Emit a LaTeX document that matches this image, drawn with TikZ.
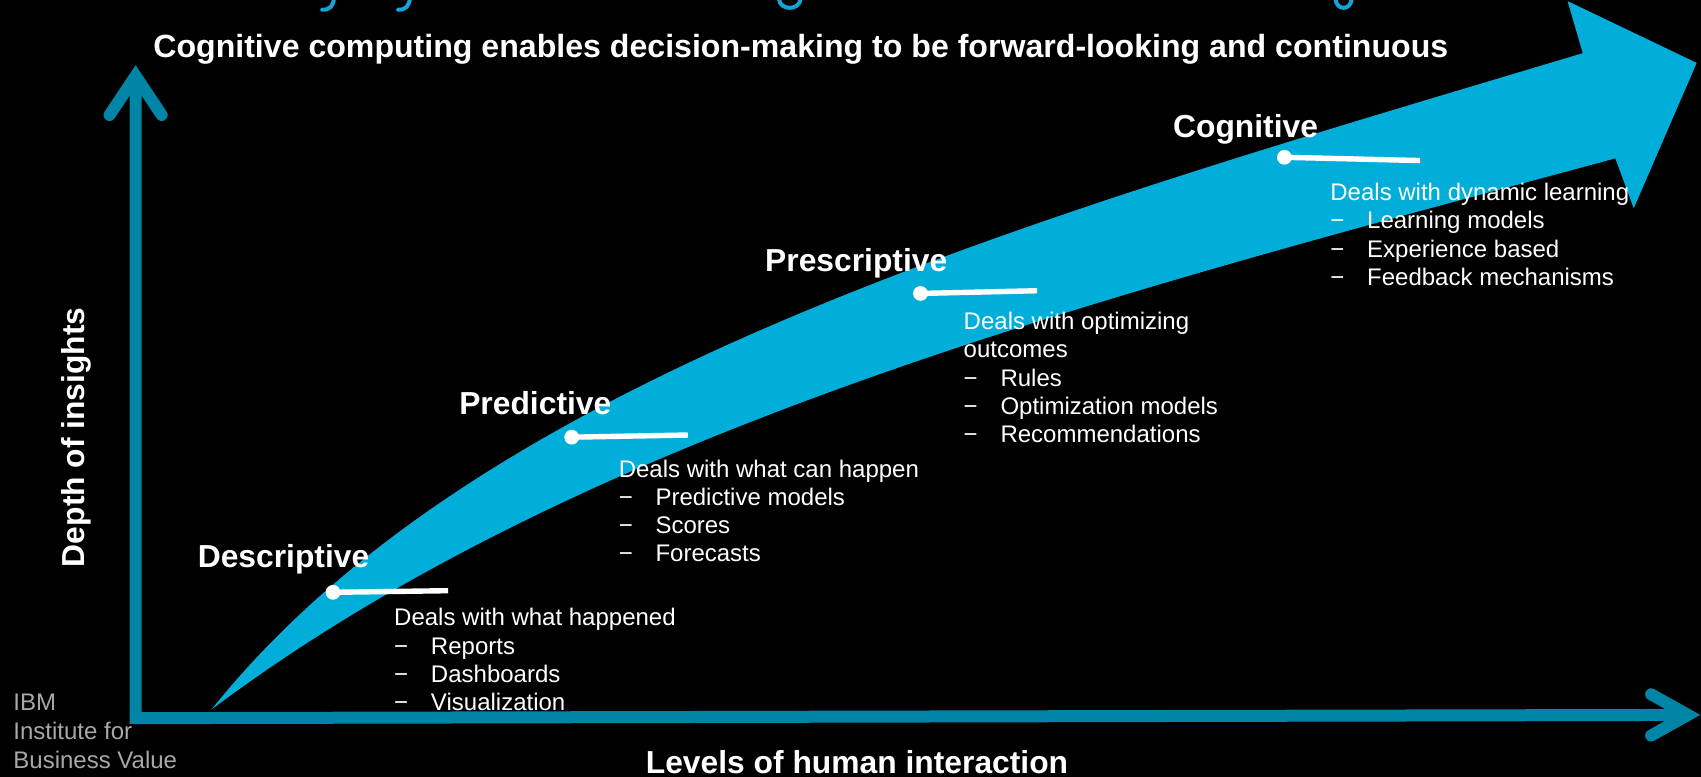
\documentclass[tikz,border=0pt]{standalone}
\usepackage{fontspec}
\setmainfont{Liberation Sans}
\definecolor{axisteal}{RGB}{0,133,166}
\definecolor{flowcyan}{RGB}{0,174,217}
\definecolor{headcyan}{RGB}{20,165,215}
\definecolor{ibmgray}{RGB}{168,168,168}
% one dash item: dash, then the item text at a fixed indent
\newcommand\dashitem[1]{\hbox{\makebox[18.4pt][l]{−}#1}}
% a block of lines whose baseline is that of its first line
\newcommand\textstack[2]{\vtop{\baselineskip=#1\relax #2}}
\begin{document}
\begin{tikzpicture}[x=0.5424pt, y=-0.5424pt,
  stagelabel/.style={text=white, font=\fontsize{15.9}{18}\selectfont\bfseries, inner sep=0pt},
  bodytext/.style={text=white, font=\fontsize{12}{14.1}\selectfont, inner sep=0pt, anchor=base west},
  ibmtext/.style={text=ibmgray, font=\fontsize{12}{14.4}\selectfont, inner sep=0pt, anchor=base west},
  stagedot/.style={circle, fill=white, minimum size=7.4pt, inner sep=0pt},
  leader/.style={white, line width=2.7pt},
  axisline/.style={axisteal, line width=6pt, line join=miter},
  axishead/.style={axisteal, line width=6pt, line cap=round, line join=miter, miter limit=10},
  cutglyph/.style={headcyan, line width=2pt, line cap=round}]

\useasboundingbox (0,0) rectangle (1568,716);
\fill[black] (0,0) rectangle (1568,716);
\clip (0,0) rectangle (1568,716);

% descenders of the heading line running off the top edge
\draw[cutglyph] (308,-2) .. controls (307,6) and (304,9) .. (297,9);
\draw[cutglyph] (378,-2) .. controls (377,6) and (374,9) .. (367,9);
\draw[cutglyph] (718,-1) .. controls (719,10) and (737,10) .. (738,-1);
\draw[cutglyph] (1231,-1) .. controls (1232,10) and (1245,10) .. (1246,-1);

% the broad curved arrow
\fill[flowcyan] (195,654) .. controls (445,341.5) and (959,199) .. (1459,49)
  -- (1445,1) -- (1564,58) -- (1506,192) -- (1489,146)
  .. controls (1039,267.5) and (545,391.5) .. (195,654) -- cycle;

% axes
\coordinate (origin) at (125,662);
\coordinate (ytop) at (125,70);
\coordinate (xend) at (1556,659);
\draw[axisline] (ytop) -- (origin) -- (xend);
\draw[axishead] (101,106) -- (ytop) -- (149,106);
\draw[axishead] (1522,640) -- (xend) -- (1522,678);

% heading and axis titles
\node[stagelabel, font=\fontsize{16.05}{18}\selectfont\bfseries, anchor=base west] (heading) at (141,53)
  {Cognitive computing enables decision-making to be forward-looking and continuous};
\node[stagelabel, rotate=90] (ylab) at (70,403) {Depth of insights};
\node[stagelabel, anchor=base] (xlab) at (790,713) {Levels of human interaction};

% source
\node[ibmtext] (ibv) at (12,655)
  {\textstack{14.4pt}{\hbox{IBM}\hbox{Institute for}\hbox{Business Value}}};

% Descriptive
\node[stagelabel, anchor=base west] (desc) at (182,523) {Descriptive};
\node[stagedot] (descdot) at (307,546) {};
\coordinate (descend) at (413,544.5);
\draw[leader] (descdot.center) -- (descend);
\node[bodytext] (descbody) at (363,577) {\textstack{14.1pt}{%
  \hbox{Deals with what happened}\dashitem{Reports}\dashitem{Dashboards}\dashitem{Visualization}}};

% Predictive
\node[stagelabel, anchor=base west] (pred) at (423,382) {Predictive};
\node[stagedot] (preddot) at (527,403) {};
\coordinate (predend) at (634,401);
\draw[leader] (preddot.center) -- (predend);
\node[bodytext] (predbody) at (570,440) {\textstack{14.1pt}{%
  \hbox{Deals with what can happen}\dashitem{Predictive models}\dashitem{Scores}\dashitem{Forecasts}}};

% Prescriptive
\node[stagelabel, anchor=base west] (presc) at (705,250) {Prescriptive};
\node[stagedot] (prescdot) at (848.5,270.5) {};
\coordinate (prescend) at (956,268);
\draw[leader] (prescdot.center) -- (prescend);
\node[bodytext] (prescbody) at (888,304) {\textstack{14.1pt}{%
  \hbox{Deals with optimizing}\hbox{outcomes}\dashitem{Rules}\dashitem{Optimization models}\dashitem{Recommendations}}};

% Cognitive
\node[stagelabel, anchor=base west] (cogn) at (1081,127) {Cognitive};
\node[stagedot] (cogndot) at (1184,145) {};
\coordinate (cognend) at (1309,148);
\draw[leader] (cogndot.center) -- (cognend);
\node[bodytext] (cognbody) at (1226,185) {\textstack{14.1pt}{%
  \hbox{Deals with dynamic learning}\dashitem{Learning models}\dashitem{Experience based}\dashitem{Feedback mechanisms}}};
\end{tikzpicture}
\end{document}
